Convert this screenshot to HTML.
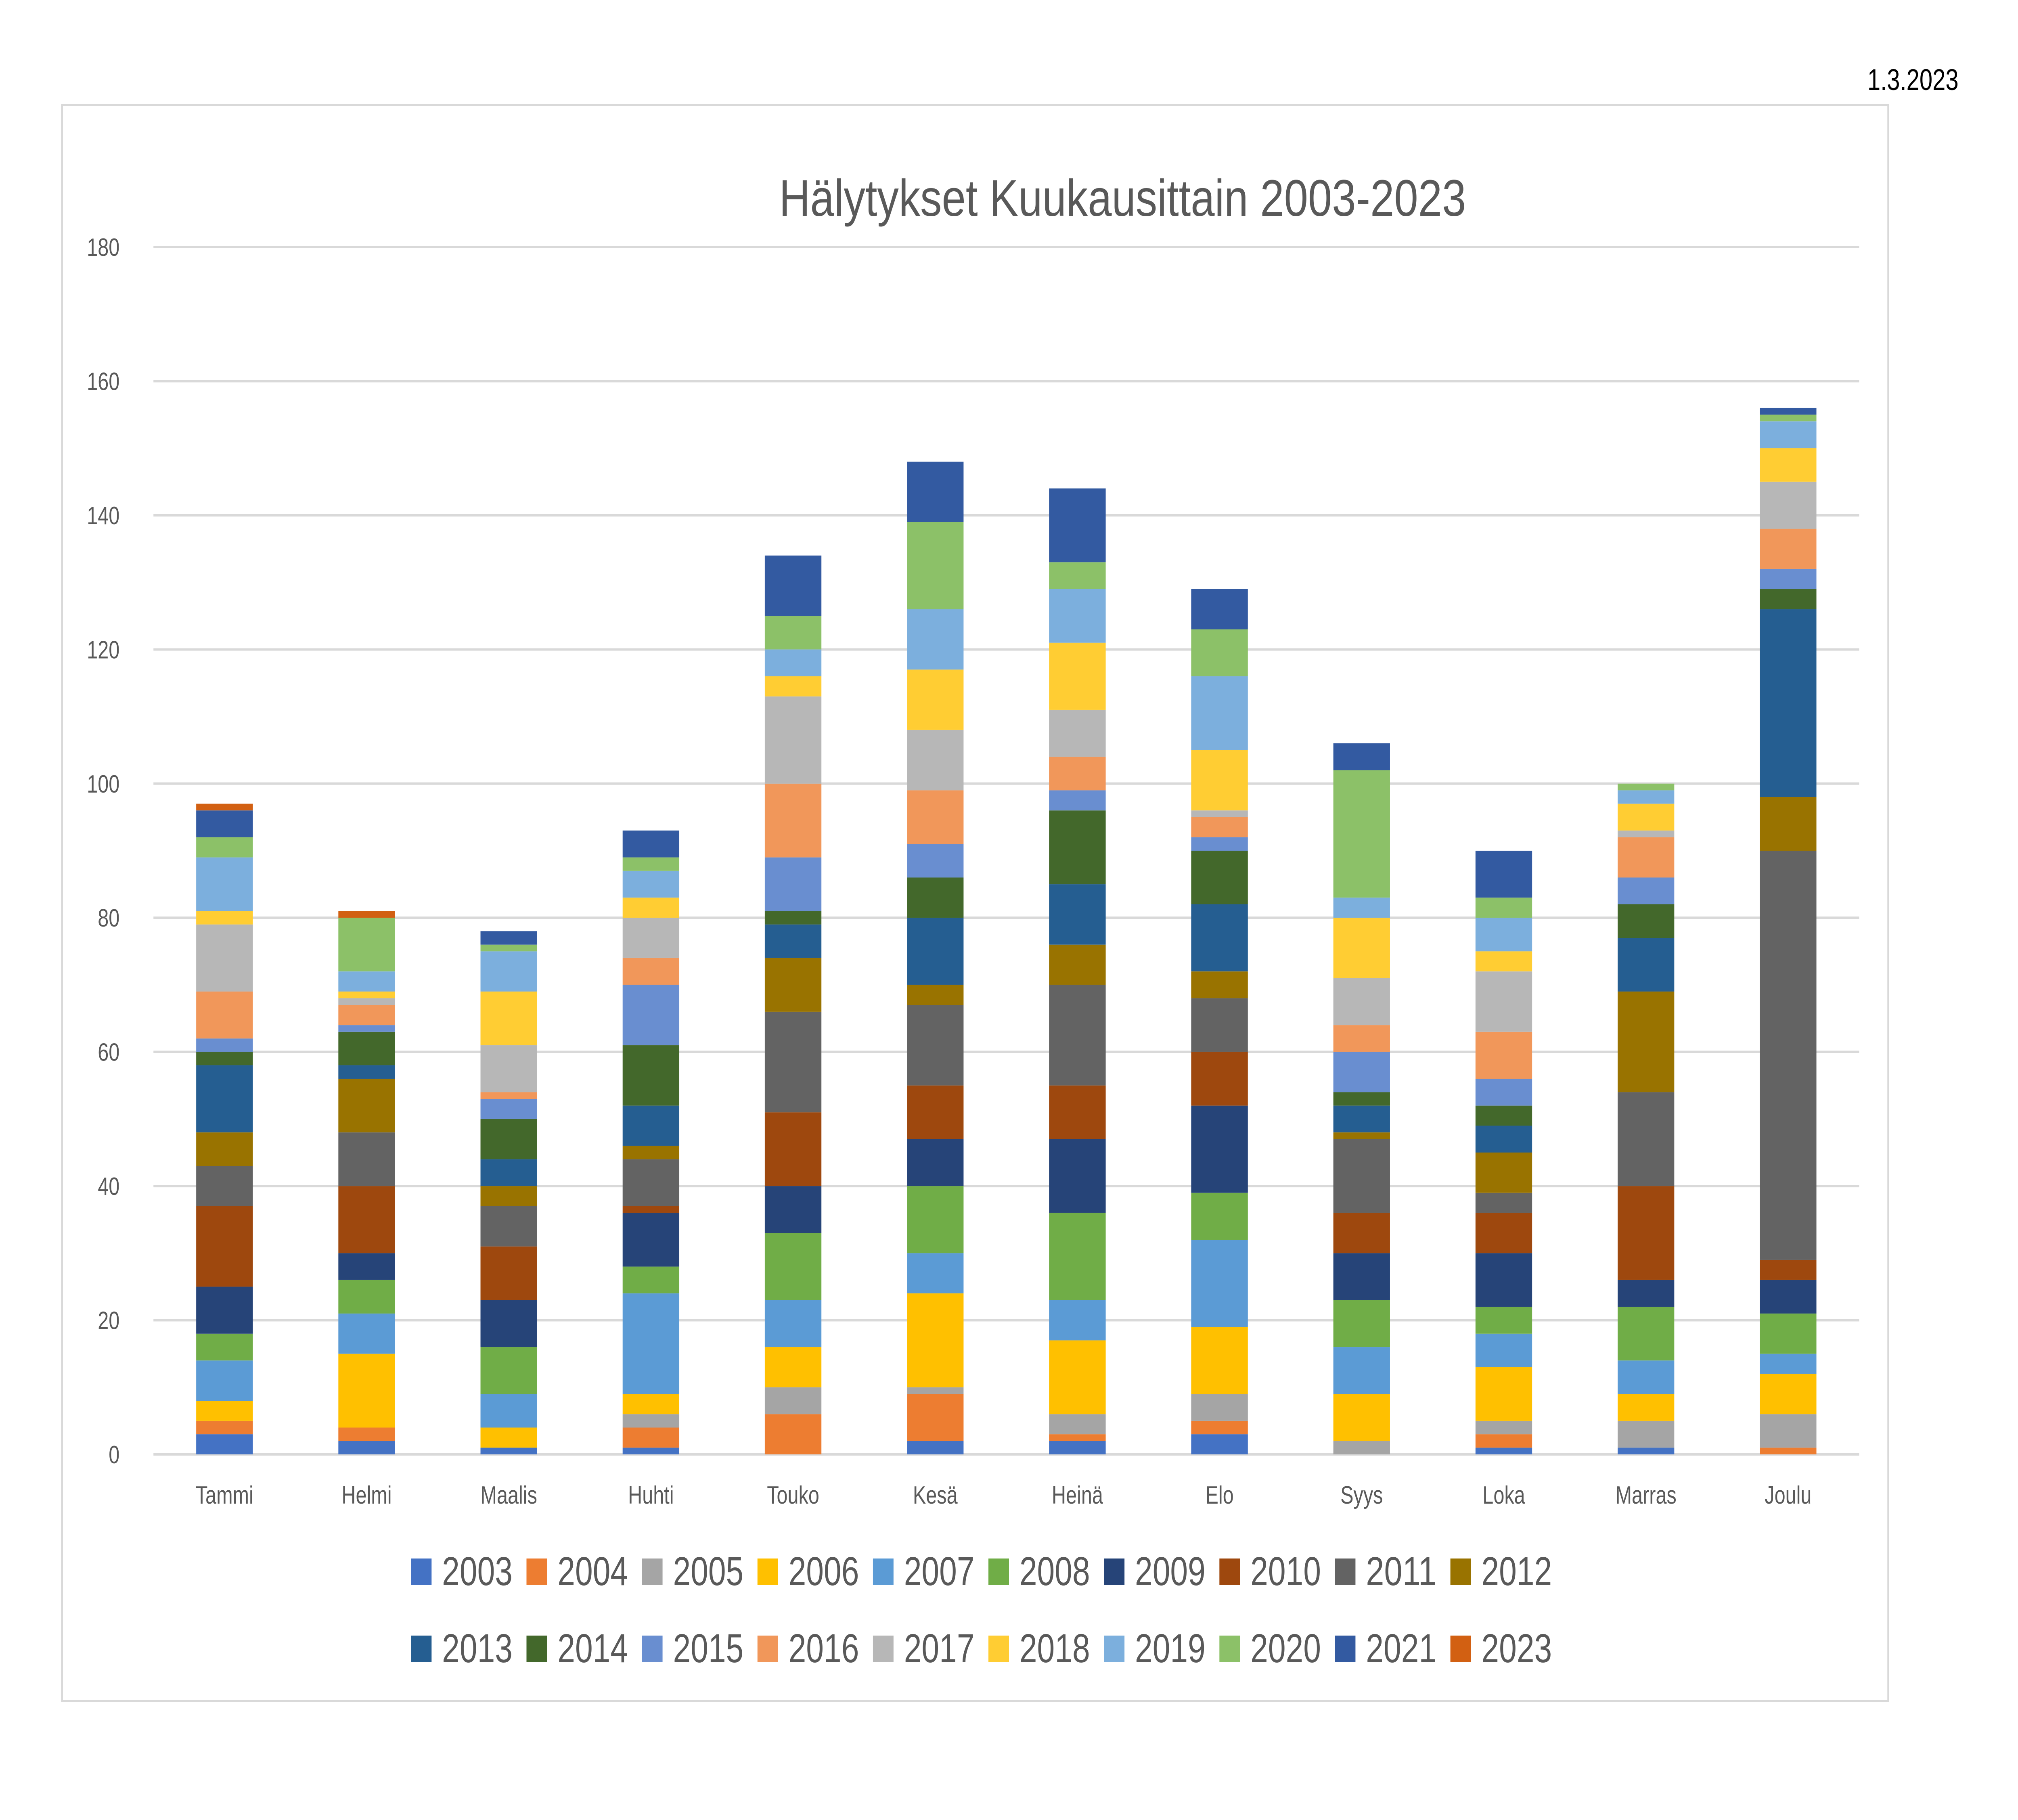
<!DOCTYPE html>
<html><head><meta charset="utf-8">
<style>
html,body{margin:0;padding:0;background:#fff;width:100%;height:100%;overflow:hidden;}
svg{display:block;width:100vw;height:100vh;}
text{font-family:"Liberation Sans",sans-serif;}
</style></head>
<body>
<svg id="chart" viewBox="0 0 6378 4510" preserveAspectRatio="none" xmlns="http://www.w3.org/2000/svg">
<rect x="0" y="0" width="6378" height="4510" fill="#fff"/>
<text x="6190" y="223" font-size="74" fill="#000" text-anchor="end">1.3.2023</text>
<rect x="196" y="260" width="5772" height="3955" fill="#fff" stroke="#d9d9d9" stroke-width="6"/>
<text x="3548" y="535" font-size="128" fill="#595959" text-anchor="middle" textLength="2171" lengthAdjust="spacingAndGlyphs">Hälytykset Kuukausittain 2003-2023</text>
<g id="grid"></g>
<g id="yaxis"></g>
<g id="bars"></g>
<g id="xaxis"></g>
<g id="legend"></g>
</svg>
<script>
const months = ["Tammi","Helmi","Maalis","Huhti","Touko","Kesä","Heinä","Elo","Syys","Loka","Marras","Joulu"];
const years = ["2003","2004","2005","2006","2007","2008","2009","2010","2011","2012","2013","2014","2015","2016","2017","2018","2019","2020","2021","2023"];
const colors = ["#4472C4","#ED7D31","#A5A5A5","#FFC000","#5B9BD5","#70AD47","#264478","#9E480E","#636363","#997300","#255E91","#43682B","#698ED0","#F1975A","#B7B7B7","#FFCD33","#7CAFDD","#8CC168","#335AA1","#D26012"];
const yTicks = [0,20,40,60,80,100,120,140,160,180];
// values per month, ordered by years
const vTammi  = [3,2,0,3,6,4,7,12,6,5,10,2,2,7,10,2,8,3,4,1];
const vHelmi  = [2,2,0,11,6,5,4,10,8,8,2,5,1,3,1,1,3,8,0,1];
const vMaalis = [1,0,0,3,5,7,7,8,6,3,4,6,3,1,7,8,6,1,2,0];
const vHuhti  = [1,3,2,3,15,4,8,1,7,2,6,9,9,4,6,3,4,2,4,0];
const vTouko  = [0,6,4,6,7,10,7,11,15,8,5,2,8,11,13,3,4,5,9,0];
const vKesa   = [2,7,1,14,6,10,7,8,12,3,10,6,5,8,9,9,9,13,9,0];
const vHeina  = [2,1,3,11,6,13,11,8,15,6,9,11,3,5,7,10,8,4,11,0];
const vElo    = [3,2,4,10,13,7,13,8,8,4,10,8,2,3,1,9,11,7,6,0];
const vSyys   = [0,0,2,7,7,7,7,6,11,1,4,2,6,4,7,9,3,19,4,0];
const vLoka   = [1,2,2,8,5,4,8,6,3,6,4,3,4,7,9,3,5,3,7,0];
const vMarras = [1,0,4,4,5,8,4,14,14,15,8,5,4,6,1,4,2,1,0,0];
const vJoulu  = [0,1,5,6,3,6,5,3,61,8,28,3,3,6,7,5,4,1,1,0];
const monthValues = [vTammi,vHelmi,vMaalis,vHuhti,vTouko,vKesa,vHeina,vElo,vSyys,vLoka,vMarras,vJoulu];

const NS = "http://www.w3.org/2000/svg";
const plotL = 485, plotR = 5876, yTop = 612, yBot = 3604, yMax = 180;
const band = (plotR - plotL) / months.length;
const barW = 179;
function yScale(v){ return yBot - v / yMax * (yBot - yTop); }
function xCenter(i){ return plotL + band * (i + 0.5); }
function mk(tag, attrs){ const e = document.createElementNS(NS, tag); for (const k in attrs) e.setAttribute(k, attrs[k]); return e; }

const grid = document.getElementById('grid'), yaxis = document.getElementById('yaxis');
yTicks.forEach(t => {
  const l = mk('line', {x1: plotL, x2: plotR, y1: yScale(t), y2: yScale(t), stroke: '#d9d9d9', 'stroke-width': 6});
  
  
  grid.appendChild(l);
  const tx = mk('text', {x: 378, y: yScale(t) + 22, 'font-size': 62, fill: '#595959', 'text-anchor': 'end'});
  tx.textContent = t;
  
  
  yaxis.appendChild(tx);
});

const bars = document.getElementById('bars'), xaxis = document.getElementById('xaxis');
months.forEach((m, i) => {
  let cum = 0;
  const vals = monthValues[i];
  years.forEach((yr, s) => {
    const v = vals[s];
    if (v > 0) {
      const r = mk('rect', {x: xCenter(i) - barW / 2, y: yScale(cum + v), width: barW, height: yScale(cum) - yScale(cum + v), fill: colors[s]});
      
      
      bars.appendChild(r);
    }
    cum += v;
  });
  const t = mk('text', {x: xCenter(i), y: 3726, 'font-size': 62, fill: '#595959', 'text-anchor': 'middle'});
  t.textContent = m;
  
  
  xaxis.appendChild(t);
});

const legend = document.getElementById('legend');
years.forEach((yr, s) => {
  const row = Math.floor(s / 10), col = s % 10;
  const x = 1299 + col * 365, y = row === 0 ? 3862 : 4053;
  const g = mk('g', {});
  
  
  const r = mk('rect', {x: x, y: y, width: 65, height: 65, fill: colors[s]});
  
  
  const t = mk('text', {x: x + 98, y: y + 66, 'font-size': 100, fill: '#595959', textLength: 223, lengthAdjust: 'spacingAndGlyphs'});
  t.textContent = yr;
  
  
  g.appendChild(r); g.appendChild(t);
  legend.appendChild(g);
});
</script>
</body></html>
